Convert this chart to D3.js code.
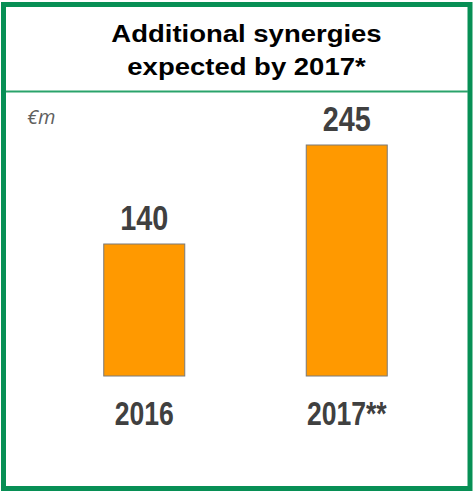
<!DOCTYPE html>
<html>
<head>
<meta charset="utf-8">
<script src="https://cdn.jsdelivr.net/npm/d3@7"></script>
<style>
  html, body { margin: 0; padding: 0; background: #fff; }
  svg { display: block; }
</style>
</head>
<body>
<svg id="chart" width="473" height="493"></svg>
<script>
// Synergy figures (in € millions)
const categories = ["2016", "2017**"];
const values = [140, 245];
const titleLines = ["Additional synergies", "expected by 2017*"];
const unitLabel = "€m";

const green = "#078f55";
const svg = d3.select("#chart");
const sans = "'Liberation Sans', Arial, sans-serif";

// Outer frame
svg.append("rect")
  .attr("x", 3.5).attr("y", 4.5)
  .attr("width", 466.5).attr("height", 484)
  .attr("fill", "none")
  .attr("stroke", green)
  .attr("stroke-width", 5);

// Divider under the title
svg.append("line")
  .attr("x1", 6).attr("x2", 468)
  .attr("y1", 91.5).attr("y2", 91.5)
  .attr("stroke", "#2aa36b")
  .attr("stroke-width", 2);

// Title (slightly widened lettering)
svg.append("g")
  .selectAll("text")
  .data(titleLines)
  .join("text")
  .attr("transform", (d, i) => `translate(246.5,${42 + i * 32.5}) scale(1.165,1)`)
  .attr("text-anchor", "middle")
  .attr("font-family", sans)
  .attr("font-weight", "bold")
  .attr("font-size", 23.6)
  .attr("fill", "#000")
  .text(d => d);

// Unit label
svg.append("text")
  .attr("x", 27).attr("y", 124)
  .attr("font-family", "'Open Sans', sans-serif")
  .attr("font-style", "italic")
  .attr("font-size", 20)
  .attr("fill", "#5f5f5f")
  .text(unitLabel);

// Scales
const x = d3.scaleBand()
  .domain(categories)
  .range([43, 448])
  .paddingInner(0.6)
  .paddingOuter(0.3);

const y = d3.scaleLinear()
  .domain([0, 245])
  .range([376, 145]);

const data = categories.map((c, i) => ({ cat: c, val: values[i] }));

// Bars
svg.append("g")
  .selectAll("rect")
  .data(data)
  .join("rect")
  .attr("x", d => x(d.cat))
  .attr("y", d => y(d.val))
  .attr("width", x.bandwidth())
  .attr("height", d => y(0) - y(d.val))
  .attr("fill", "#ff9900")
  .attr("stroke", "#7a7a7a")
  .attr("stroke-width", 1);

// Value labels (condensed lettering)
svg.append("g")
  .selectAll("text")
  .data(data)
  .join("text")
  .attr("transform", d => `translate(${x(d.cat) + x.bandwidth() / 2},${y(d.val) - 14}) scale(0.8,1)`)
  .attr("text-anchor", "middle")
  .attr("font-family", sans)
  .attr("font-weight", "bold")
  .attr("font-size", 36)
  .attr("fill", "#404040")
  .text(d => d.val);

// Category labels
svg.append("g")
  .selectAll("text")
  .data(data)
  .join("text")
  .attr("transform", d => `translate(${x(d.cat) + x.bandwidth() / 2},425) scale(0.78,1)`)
  .attr("text-anchor", "middle")
  .attr("font-family", sans)
  .attr("font-weight", "bold")
  .attr("font-size", 34)
  .attr("fill", "#404040")
  .text(d => d.cat);
</script>
</body>
</html>
